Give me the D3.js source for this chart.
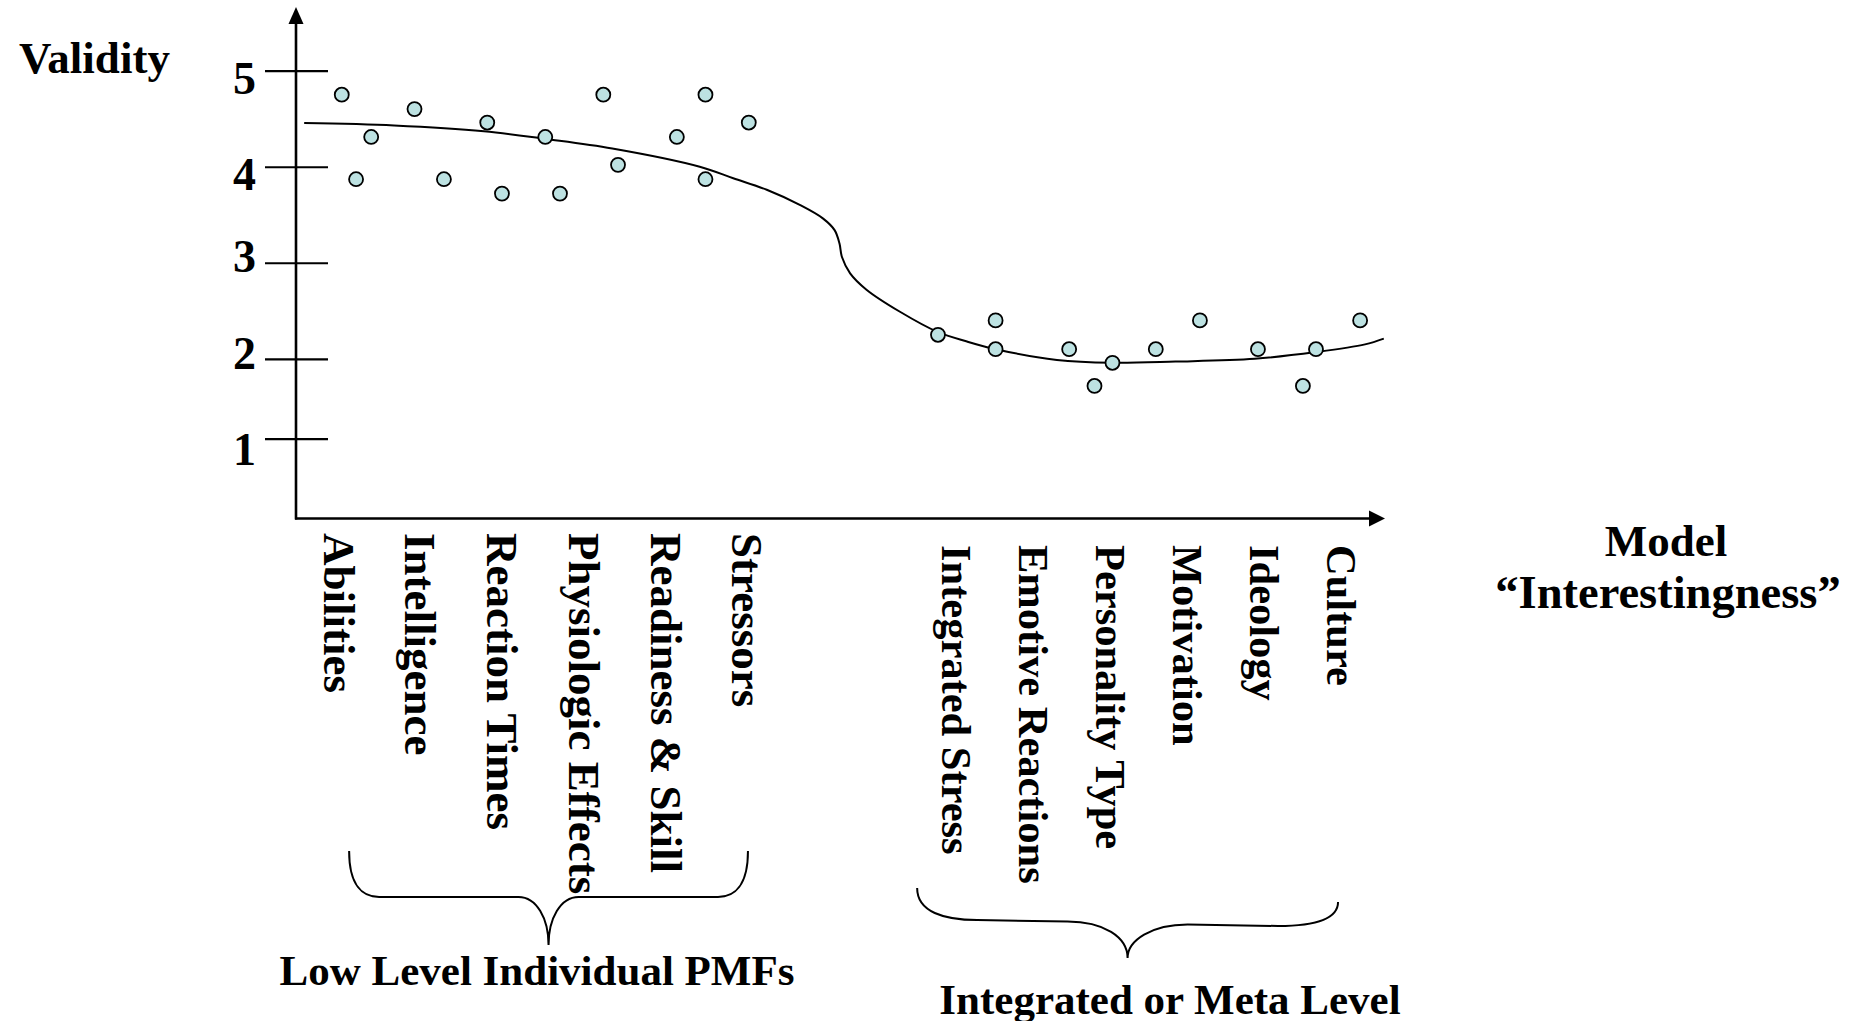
<!DOCTYPE html>
<html>
<head>
<meta charset="utf-8">
<script src="https://cdn.jsdelivr.net/npm/d3@7"></script>
<style>
  html, body { margin: 0; padding: 0; background: #ffffff; }
  svg { display: block; }
  text { font-family: "Liberation Serif", "Times New Roman", serif; font-weight: bold; fill: #000; }
</style>
</head>
<body>
<svg id="chart" width="1857" height="1021"></svg>
<script>
// ---------------- data ----------------
const categories = ["Abilities", "Intelligence", "Reaction Times", "Physiologic Effects",
  "Readiness & Skill", "Stressors", "Integrated Stress", "Emotive Reactions",
  "Personality Type", "Motivation", "Ideology", "Culture"];
// position of each category along the "interestingness" axis
const categoryPos = [0.52, 1.52, 2.52, 3.52, 4.52, 5.52, 8.08, 9.02, 9.96, 10.90, 11.85, 12.79];

// scatter points (interestingness, validity)
const pointX = [0.56, 0.735, 0.92, 1.45, 1.81, 2.34, 2.52, 3.05, 3.23, 3.76, 3.94, 4.66, 5.01, 5.01, 5.54,
  7.855, 8.56, 8.56, 9.46, 9.77, 9.99, 10.52, 11.06, 11.77, 12.32, 12.48, 13.02];
const pointY = [4.75, 3.87, 4.31, 4.60, 3.87, 4.46, 3.72, 4.31, 3.72, 4.75, 4.02, 4.31, 4.75, 3.87, 4.46,
  2.25, 2.40, 2.10, 2.10, 1.66, 1.95, 2.10, 2.40, 2.10, 1.66, 2.10, 2.40];

// hand-drawn trend curve (interestingness, validity)
const trendX = [0.10, 1.20, 2.30, 3.05, 3.87, 4.94, 5.35, 5.76, 6.17, 6.45, 6.59, 6.65, 6.68, 6.78, 6.98,
  7.39, 7.85, 8.21, 8.56, 9.31, 9.98, 10.76, 11.73, 12.48, 13.08, 13.31];
const trendY = [4.455, 4.43, 4.37, 4.29, 4.19, 4.00, 3.88, 3.76, 3.60, 3.46, 3.34, 3.20, 3.06, 2.89, 2.72,
  2.49, 2.28, 2.18, 2.10, 1.986, 1.95, 1.965, 2.00, 2.07, 2.15, 2.21];

const yTicks = [1, 2, 3, 4, 5];
const yTitle = "Validity";
const xTitle = ["Model", "\u201CInterestingness\u201D"];
const groups = [
  { label: "Low Level Individual PMFs", from: 0, to: 5 },
  { label: "Integrated or Meta Level", from: 6, to: 11 }
];

// ---------------- scales ----------------
const svg = d3.select("#chart");
const x = d3.scaleLinear().domain([0, 13.3]).range([296, 1383]);
const y = d3.scaleLinear().domain([0, 2, 5]).range([518.5, 358.8, 70.7]);

const x0 = x(0), y0 = y(0);

// ---------------- axes ----------------
// hand-placed tick label baselines (relative to tick line), as in the original slide
const tickLabelShift = { 1: 26, 2: 10, 3: 9, 4: 23, 5: 23 };
const yAxis = d3.axisLeft(y).tickValues(yTicks).tickSize(31).tickFormat(d3.format("d"));
const gy = svg.append("g").attr("transform", `translate(${x0},0)`).call(yAxis);
gy.select(".domain").remove();
gy.selectAll(".tick line").attr("x1", 32).attr("x2", -31).attr("stroke", "#000").attr("stroke-width", 2.2);
gy.selectAll(".tick text")
  .attr("x", -40).attr("dy", null).attr("y", d => tickLabelShift[d])
  .style("font-size", "46px").style("font-family", "'Liberation Serif', serif")
  .style("font-weight", "bold").attr("fill", "#000").attr("text-anchor", "end");

// axis lines with arrowheads
svg.append("line").attr("x1", x0).attr("y1", y0 + 1).attr("x2", x0).attr("y2", 22)
  .attr("stroke", "#000").attr("stroke-width", 2.6);
svg.append("path").attr("d", `M${x0 - 7.5},${24} L${x0},${7} L${x0 + 7.5},${24} Z`).attr("fill", "#000");

svg.append("line").attr("x1", x0 - 1).attr("y1", y0).attr("x2", 1370).attr("y2", y0)
  .attr("stroke", "#000").attr("stroke-width", 2.6);
svg.append("path").attr("d", `M1369,${y0 - 8} L1385,${y0} L1369,${y0 + 8} Z`).attr("fill", "#000");

// ---------------- trend curve ----------------
const trend = trendX.map((v, i) => [v, trendY[i]]);
svg.append("path")
  .datum(trend)
  .attr("d", d3.line().x(d => x(d[0])).y(d => y(d[1])).curve(d3.curveCatmullRom.alpha(0.5)))
  .attr("fill", "none").attr("stroke", "#000").attr("stroke-width", 2);

// ---------------- points ----------------
const pts = pointX.map((v, i) => ({ x: v, y: pointY[i] }));
svg.append("g").selectAll("circle").data(pts).join("circle")
  .attr("cx", d => x(d.x)).attr("cy", d => y(d.y)).attr("r", 7)
  .attr("fill", "#bde2e2").attr("stroke", "#000").attr("stroke-width", 1.8);

// ---------------- category labels ----------------
svg.append("g").selectAll("text").data(categories).join("text")
  .attr("transform", (d, i) => `translate(${x(categoryPos[i])},${i < 6 ? 533 : 545}) rotate(90)`)
  .attr("dy", "0.33em")
  .attr("text-anchor", "start")
  .style("font-size", (d, i) => i < 6 ? "45px" : "42.5px")
  .text(d => d);

// ---------------- titles ----------------
svg.append("text").attr("x", 19).attr("y", 73).style("font-size", "45px").text(yTitle);
svg.append("text").attr("x", 1666).attr("y", 556).attr("text-anchor", "middle").style("font-size", "45px").text(xTitle[0]);
svg.append("text").attr("x", 1668).attr("y", 608).attr("text-anchor", "middle").style("font-size", "46.5px").text(xTitle[1]);

// ---------------- braces ----------------
function bracePath(xl, xr, yl, yr, ymL, ymR, xt, yt, r) {
  const p = d3.path();
  p.moveTo(xl, yl);
  p.bezierCurveTo(xl, yl + (ymL - yl) * 0.75, xl + r * 0.45, ymL, xl + r, ymL);
  p.lineTo(xt - r * 1.0, ymL + (ymR - ymL) * 0.25);
  p.bezierCurveTo(xt - r * 0.4, ymL + (ymR - ymL) * 0.25, xt, yt - (yt - ymL) * 0.55, xt, yt);
  p.moveTo(xt, yt);
  p.bezierCurveTo(xt, yt - (yt - ymR) * 0.55, xt + r * 0.4, ymR - (ymR - ymL) * 0.25, xt + r * 1.0, ymR - (ymR - ymL) * 0.25);
  p.lineTo(xr - r, ymR);
  p.bezierCurveTo(xr - r * 0.45, ymR, xr, yr + (ymR - yr) * 0.75, xr, yr);
  return p.toString();
}
const braceGeom = [
  { xl: x(0.65), xr: x(5.53), yl: 851, yr: 851, ymL: 897, ymR: 897, yt: 945, r: 30, ly: 985 },
  { xl: x(7.6), xr: x(12.75), yl: 888, yr: 902, ymL: 920, ymR: 926, yt: 958, r: 60, ly: 1014 }
];
groups.forEach((g, i) => {
  const b = braceGeom[i];
  const xt = (b.xl + b.xr) / 2;
  svg.append("path")
    .attr("d", bracePath(b.xl, b.xr, b.yl, b.yr, b.ymL, b.ymR, xt, b.yt, b.r))
    .attr("fill", "none").attr("stroke", "#000").attr("stroke-width", 2);
  svg.append("text").attr("x", i === 0 ? 537 : 1170).attr("y", b.ly)
    .attr("text-anchor", "middle").style("font-size", "43px").text(g.label);
});
</script>
</body>
</html>
